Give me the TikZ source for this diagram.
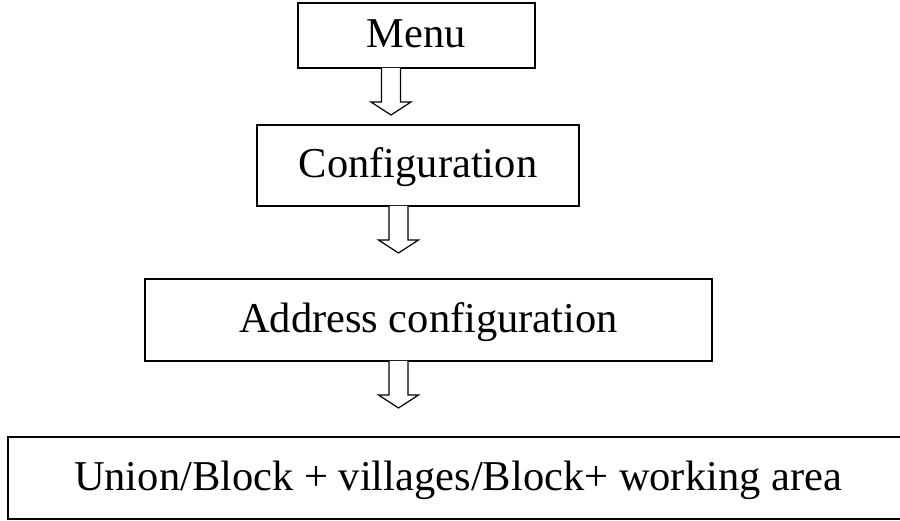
\documentclass[tikz,border=0pt]{standalone}
\usepackage{fontspec}
\setmainfont{Liberation Serif}
\usetikzlibrary{calc}
\tikzset{
  box/.style={draw=black, line width=1.4pt, inner sep=0pt, outer sep=0pt,
    font=\fontsize{42.5}{51}\selectfont, text height=30pt, text depth=5pt, anchor=center},
  blockarrow/.style={draw=black, line width=1.2pt, line join=miter, fill=white}
}
\newcommand\blockarr[3]{% #1 from node, #2 x-coordinate name, #3 end coordinate name
  \draw[blockarrow] ($(#1.south -| #2)+(-9.5,0)$) -- ++(0,34) -- ++(-10.5,0)
    -- ++(20,13) coordinate (#3) -- ++(20,-13) -- ++(-10.5,0) -- ++(0,-34);}
\begin{document}
\begin{tikzpicture}[x=1pt,y=-1pt]
\useasboundingbox (0,0) rectangle (900,521);
\node[box, minimum width=237pt, minimum height=65pt] (menu) at (416.5,35.5) {Menu};
\node[box, minimum width=322pt, minimum height=81pt] (config) at (418,165.5) {Configuration};
\node[box, minimum width=567pt, minimum height=82pt] (addr) at (428.5,320) {Address configuration};
\node[box, minimum width=900pt, minimum height=82pt] (area) at (458,478) {Union/Block + villages/Block+ working area};
\coordinate (xa) at (391,0);
\coordinate (xb) at (398.5,0);
\blockarr{menu}{xa}{t1}
\blockarr{config}{xb}{t2}
\blockarr{addr}{xb}{t3}
\end{tikzpicture}
\end{document}
